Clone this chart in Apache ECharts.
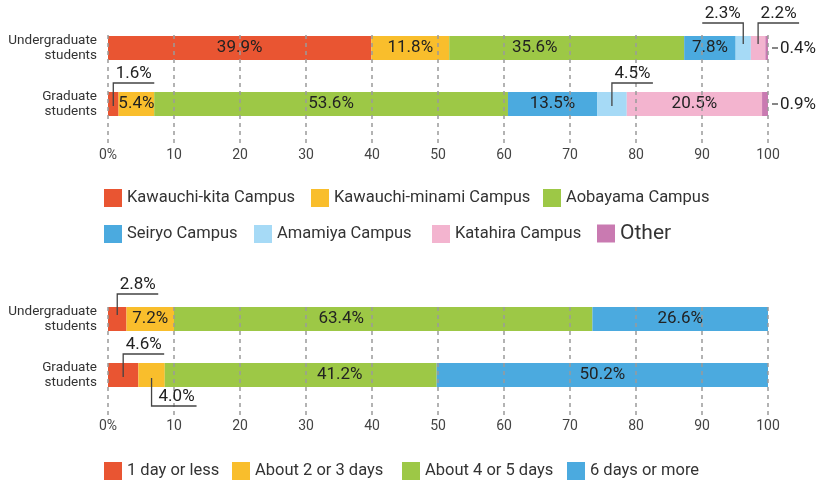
<!DOCTYPE html>
<html><head><meta charset="utf-8">
<script src="https://cdn.jsdelivr.net/npm/echarts@6/dist/echarts.min.js"></script>
<style>html,body{margin:0;padding:0;background:#fff}#c{width:818px;height:484px}</style>
</head><body><div id="c"></div>
<script>
// ---------- DATA ----------
const categories = ['Undergraduate\nstudents', 'Graduate\nstudents'];
const campusNames = ['Kawauchi-kita Campus', 'Kawauchi-minami Campus', 'Aobayama Campus', 'Seiryo Campus', 'Amamiya Campus', 'Katahira Campus', 'Other'];
const campusUndergrad = [39.9, 11.8, 35.6, 7.8, 2.3, 2.2, 0.4];
const campusGraduate = [1.6, 5.4, 53.6, 13.5, 4.5, 20.5, 0.9];
const daysNames = ['1 day or less', 'About 2 or 3 days', 'About 4 or 5 days', '6 days or more'];
const daysUndergrad = [2.8, 7.2, 63.4, 26.6];
const daysGraduate = [4.6, 4.0, 41.2, 50.2];
const xTickLabels = ['0%', '10', '20', '30', '40', '50', '60', '70', '80', '90', '100'];

// ---------- STYLE / LAYOUT ----------
const campusColors = ['#E95532', '#F9BE2C', '#9DC846', '#4BAADF', '#A6DAF6', '#F3B4CF', '#C97AB1'];
const daysColors = ['#E95532', '#F9BE2C', '#9DC846', '#4BAADF'];
const FONT = 'Roboto, "Noto Sans", sans-serif';
// callouts: [row, segment index, direction]
const campusCallouts = [[0, 4, 'upLeft'], [0, 5, 'upRight'], [0, 6, 'right'], [1, 0, 'upRight'], [1, 4, 'upRight'], [1, 6, 'right']];
const daysCallouts = [[0, 0, 'upRight'], [1, 0, 'upRight'], [1, 1, 'downRight']];
const labelShift = { 'c-0-2': -32, 'd-0-2': -42, 'd-1-2': 39 };

const chart = echarts.init(document.getElementById('c'), null, { renderer: 'canvas' });

function isCallout(list, row, idx) {
  return list.some(c => c[0] === row && c[1] === idx);
}

function buildSeries(names, rows, colors, callouts, stack, axisIdx, key) {
  return names.map((n, i) => ({
    name: n,
    type: 'bar',
    stack: stack,
    xAxisIndex: axisIdx,
    yAxisIndex: axisIdx,
    barWidth: 24,
    itemStyle: { color: colors[i] },
    data: rows.map((r, ri) => ({
      value: r[i],
      label: {
        show: !isCallout(callouts, ri, i),
        offset: [labelShift[key + '-' + ri + '-' + i] || 0, 0]
      }
    })),
    label: {
      position: 'inside',
      formatter: p => p.value.toFixed(1) + '%',
      color: '#222',
      fontSize: 17,
      fontFamily: FONT
    }
  }));
}

const overlayX = (grid) => ({
  gridIndex: grid, type: 'value', min: 0, max: 100, interval: 10, z: 10,
  axisLine: { show: false }, axisTick: { show: false },
  axisLabel: { margin: 3, fontSize: 14, color: '#444', fontFamily: FONT,
    formatter: v => xTickLabels[Math.round(v / 10)] },
  splitLine: { show: true, lineStyle: { color: '#9a9a9a', width: 1.5, type: [4, 4] } }
});
const hiddenX = (grid) => ({ gridIndex: grid, type: 'value', min: 0, max: 100, show: false, splitLine: { show: false } });
const catY = (grid) => ({
  gridIndex: grid, type: 'category', data: categories, inverse: true,
  axisLine: { show: false }, axisTick: { show: false },
  axisLabel: { margin: 11, fontSize: 13.5, lineHeight: 15, color: '#333', fontFamily: FONT, align: 'right' }
});
const hiddenY = (grid) => ({ gridIndex: grid, type: 'value', show: false, splitLine: { show: false } });

function legendItem(name, left, top, size) {
  return {
    data: [name], left: left, top: top, padding: 0, icon: 'rect',
    itemWidth: 18, itemHeight: 18, selectedMode: false,
    textStyle: { fontSize: size || 16.5, color: '#333', fontFamily: FONT }
  };
}

const legends = [
  legendItem(campusNames[0], 104, 189), legendItem(campusNames[1], 311, 189), legendItem(campusNames[2], 543, 189),
  legendItem(campusNames[3], 104, 225), legendItem(campusNames[4], 254, 225), legendItem(campusNames[5], 432, 225),
  legendItem(campusNames[6], 597, 223, 21),
  legendItem(daysNames[0], 104, 462), legendItem(daysNames[1], 232, 462), legendItem(daysNames[2], 402, 462), legendItem(daysNames[3], 567, 462)
];

chart.setOption({
  animation: false,
  backgroundColor: '#fff',
  grid: [
    { left: 108, width: 660, top: 20, height: 112 },
    { left: 108, width: 660, top: 35, height: 110 },
    { left: 108, width: 660, top: 291, height: 112 },
    { left: 108, width: 660, top: 307, height: 109 }
  ],
  xAxis: [hiddenX(0), overlayX(1), hiddenX(2), overlayX(3)],
  yAxis: [catY(0), hiddenY(1), catY(2), hiddenY(3)],
  legend: legends,
  series: [
    ...buildSeries(campusNames, [campusUndergrad, campusGraduate], campusColors, campusCallouts, 'campus', 0, 'c'),
    ...buildSeries(daysNames, [daysUndergrad, daysGraduate], daysColors, daysCallouts, 'days', 2, 'd')
  ]
});

// ---------- callouts via axis scales ----------
function calloutGraphics(gridIndex, rows, callouts) {
  const out = [];
  const lineStyle = { stroke: '#444', lineWidth: 1.3, fill: null };
  const textStyle = (t, x, y, align, va) => ({ type: 'text', z: 20, style: { text: t, x: x, y: y, align: align, verticalAlign: va, fontSize: 17, fill: '#222', fontFamily: FONT } });
  callouts.forEach(([row, idx, dir]) => {
    const vals = rows[row];
    let start = 0;
    for (let k = 0; k < idx; k++) start += vals[k];
    const v = vals[idx];
    const txt = v.toFixed(1) + '%';
    const [cx, cy] = chart.convertToPixel({ gridIndex: gridIndex }, [start + v / 2, row]);
    const topOff = row === 0 ? -25 : -21;
    const botOff = row === 0 ? -4 : 2;
    if (dir === 'upLeft' || dir === 'upRight') {
      const uy = cy + topOff;
      const len = 41;
      const ex = dir === 'upLeft' ? cx - len : cx + len;
      out.push({ type: 'polyline', z: 20, shape: { points: [[cx, cy + botOff], [cx, uy], [ex, uy]] }, style: lineStyle });
      out.push(textStyle(txt, (cx + ex) / 2, uy - 1, 'center', 'bottom'));
    } else if (dir === 'downRight') {
      const uy = cy + 31;
      const ex = cx + 45;
      out.push({ type: 'polyline', z: 20, shape: { points: [[cx, cy + 3], [cx, uy], [ex, uy]] }, style: lineStyle });
      out.push(textStyle(txt, cx + 25, uy - 1, 'center', 'bottom'));
    } else if (dir === 'right') {
      const [ex, ey] = chart.convertToPixel({ gridIndex: gridIndex }, [start + v, row]);
      out.push({ type: 'line', z: 20, shape: { x1: ex + 4, y1: ey, x2: ex + 10, y2: ey }, style: lineStyle });
      out.push(textStyle(txt, ex + 12, ey + 1, 'left', 'middle'));
    }
  });
  return out;
}

chart.setOption({
  graphic: [
    ...calloutGraphics(0, [campusUndergrad, campusGraduate], campusCallouts),
    ...calloutGraphics(2, [daysUndergrad, daysGraduate], daysCallouts)
  ]
});
</script>
</body></html>
